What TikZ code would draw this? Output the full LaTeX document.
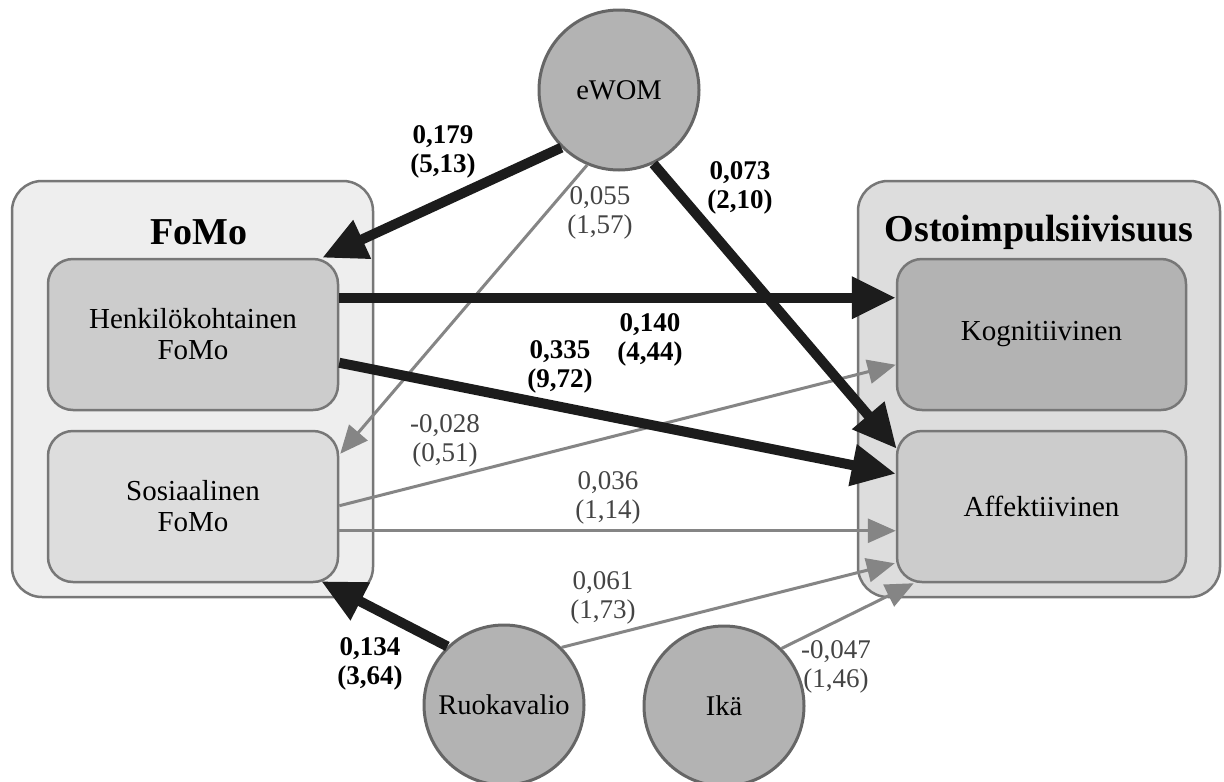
\documentclass[tikz,border=0pt]{standalone}
\usepackage{fontspec}
\setmainfont{Liberation Serif}
\usetikzlibrary{arrows.meta,calc}

\definecolor{edgegray}{HTML}{777777}
\definecolor{outerL}{HTML}{EEEEEE}
\definecolor{outerR}{HTML}{DDDDDD}
\definecolor{henkfill}{HTML}{CCCCCC}
\definecolor{sosfill}{HTML}{DDDDDD}
\definecolor{kogfill}{HTML}{B3B3B3}
\definecolor{afffill}{HTML}{CCCCCC}
\definecolor{circfill}{HTML}{B3B3B3}
\definecolor{circedge}{HTML}{666666}
\definecolor{strong}{HTML}{1C1C1C}
\definecolor{weak}{HTML}{858585}
\definecolor{weaktext}{HTML}{444444}

\tikzset{
  group/.style={draw=edgegray, line width=2.5pt, rounded corners=30pt, inner sep=0pt},
  grouptitle/.style={font=\bfseries\fontsize{38}{42}\selectfont, inner sep=0pt},
  factor/.style={draw=edgegray, line width=2.5pt, rounded corners=25pt,
    minimum width=290pt, minimum height=151pt, align=center,
    font=\fontsize{29}{31}\selectfont},
  var/.style={circle, draw=circedge, line width=3pt, fill=circfill,
    minimum size=160pt, inner sep=0pt, font=\fontsize{28.5}{31}\selectfont},
  strongpath/.style={draw=strong, line width=10pt, -{Triangle[length=44pt,width=40pt]}},
  weakpath/.style={draw=weak, line width=3pt, -{Triangle[length=28pt,width=24pt]}},
  est/.style={align=center, font=\fontsize{27}{29}\selectfont, text=weaktext, inner sep=0pt},
  estbold/.style={align=center, font=\bfseries\fontsize{27}{29}\selectfont, text=black, inner sep=0pt},
}

\begin{document}
\begin{tikzpicture}[x=1pt,y=-1pt]
\useasboundingbox (0,0) rectangle (1224,782);
\fill[white] (0,0) rectangle (1224,782);

% construct groups
\node[group, fill=outerL, minimum width=361pt, minimum height=416pt] (fomo) at (192.5,389) {};
\node[group, fill=outerR, minimum width=362pt, minimum height=416pt] (osto) at (1039,389) {};
\node[grouptitle] (fomotitle) at (199,232) {FoMo};
\node[grouptitle] (ostotitle) at (1039,232) {Ostoimpulsiivisuus};

% factors
\node[factor, fill=henkfill] (henk) at (193,334.5) {Henkilökohtainen\\FoMo};
\node[factor, fill=sosfill] (sos) at (193,506.5) {Sosiaalinen\\FoMo};
\node[factor, fill=kogfill, minimum width=289pt] (kog) at (1041.5,334.5) {Kognitiivinen};
\node[factor, fill=afffill, minimum width=289pt] (aff) at (1041.5,506.5) {Affektiivinen};

% observed variables
\node[var] (ewom) at (619,90) {eWOM};
\node[var] (ruoka) at (504,705) {Ruokavalio};
\node[var] (ika) at (724,706) {Ikä};

% weak paths
\draw[weakpath] (ewom.247) -- ($(sos.north east)+(1,24)$);
\draw[weakpath] ($(sos.north east)+(0,76)$) -- ($(kog.north west)+(0,107)$);
\draw[weakpath] ($(sos.north east)+(0,101)$) -- ($(aff.north west)+(0,101)$);
\draw[weakpath] (ruoka.45) -- ($(aff.south west)+(-1,-20)$);
\draw[weakpath] (ika.45) -- ($(aff.south west)+(18,0)$);

% strong paths
\draw[strongpath] (ewom.225) -- ($(henk.north east)+(-17,0)$);
\draw[strongpath] (ewom.295) -- ($(aff.north west)+(1,19)$);
\draw[strongpath] ($(henk.north east)+(0,40)$) -- ($(kog.north west)+(0,40)$);
\draw[strongpath] ($(henk.north east)+(0,105)$) -- ($(aff.north west)+(0,44)$);
\draw[strongpath] (ruoka.134) -- ($(sos.south east)+(-18,-2)$);

% estimates (t-values)
\node[estbold] (e1) at (443,152) {0,179\\(5,13)};
\node[est] (e2) at (600,213) {0,055\\(1,57)};
\node[estbold] (e3) at (740,188) {0,073\\(2,10)};
\node[estbold] (e4) at (650,340) {0,140\\(4,44)};
\node[estbold] (e5) at (560,367) {0,335\\(9,72)};
\node[est] (e6) at (445,441) {-0,028\\(0,51)};
\node[est] (e7) at (608,498) {0,036\\(1,14)};
\node[est] (e8) at (603,598) {0,061\\(1,73)};
\node[estbold] (e9) at (370,664) {0,134\\(3,64)};
\node[est] (e10) at (836,667) {-0,047\\(1,46)};
\end{tikzpicture}
\end{document}
